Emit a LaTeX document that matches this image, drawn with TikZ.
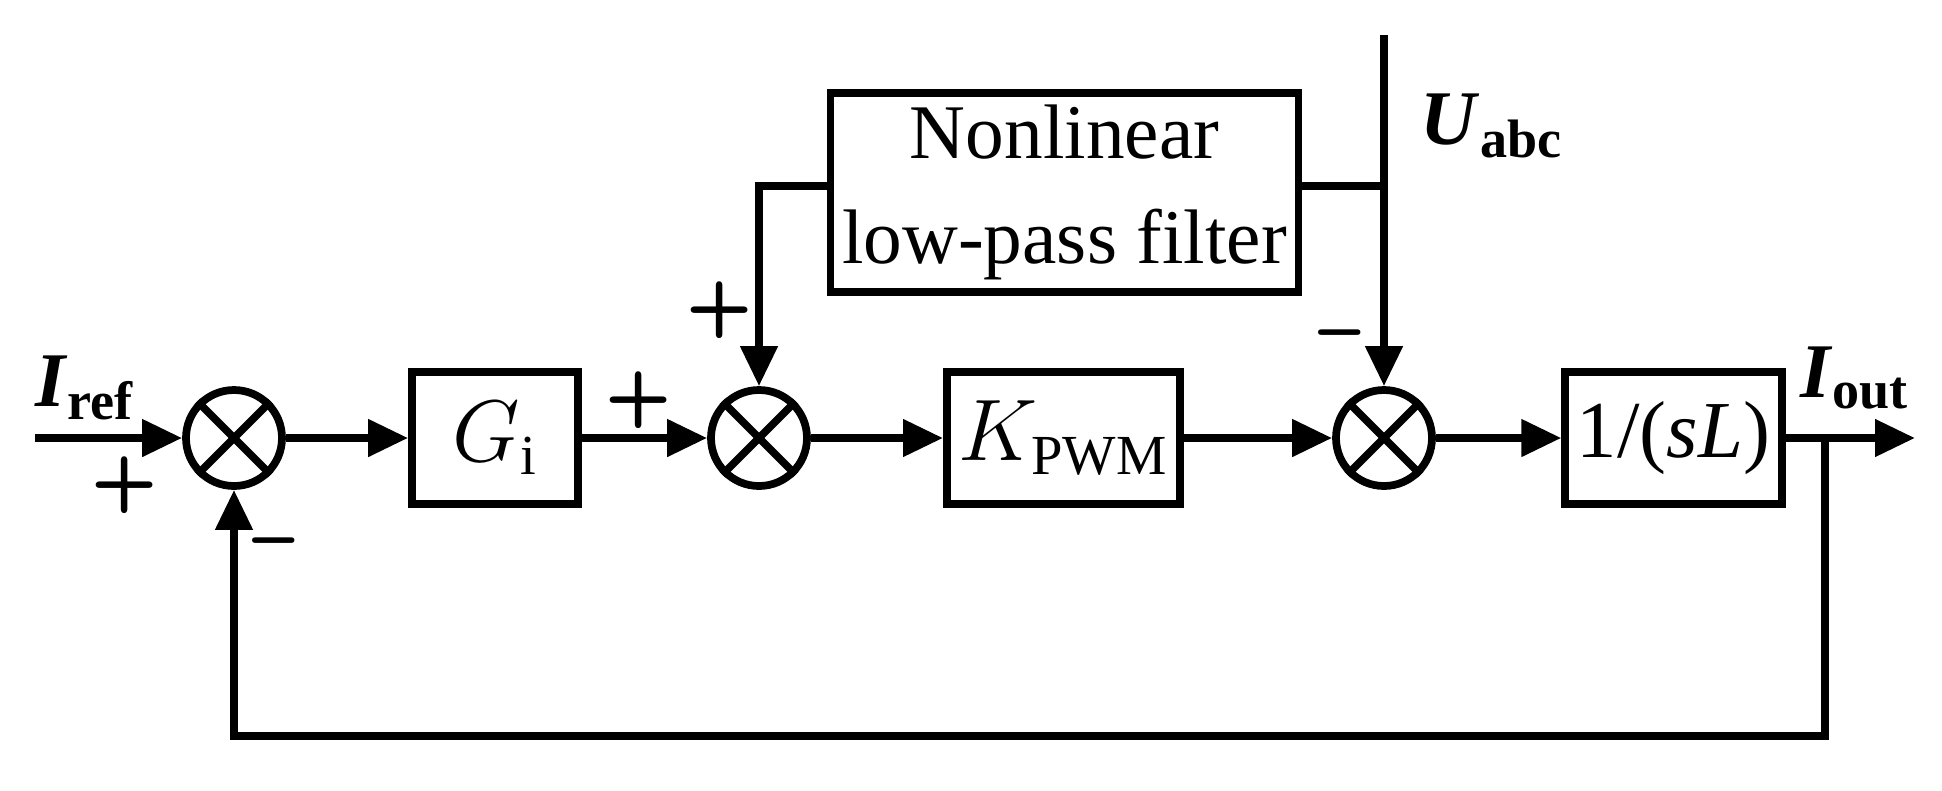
\documentclass[tikz,border=0pt]{standalone}
\usepackage{fontspec}
\setmainfont{Liberation Serif}
\usetikzlibrary{arrows.meta,positioning}

\tikzset{
  blk/.style={draw,line width=2.2pt,minimum height=1.32cm,font=\fontsize{23}{26}\selectfont},
  sumj/.style={draw,circle,line width=2.2pt,minimum size=0.96cm,inner sep=0pt},
  sig/.style={line width=2.2pt,-{Triangle[length=0.4cm,width=0.36cm]}},
  wire/.style={line width=2.2pt},
  sgn/.style={font=\fontsize{22}{22}\selectfont\bfseries\sffamily},
  lbl/.style={font=\fontsize{22}{24}\selectfont\bfseries}
}

\begin{document}
\begin{tikzpicture}
\useasboundingbox (0,0) rectangle (19.42,-7.90);
% summing junctions
\node[sumj] (s1) at (2.34,-4.38) {};
\node[sumj] (s2) at (7.59,-4.38) {};
\node[sumj] (s3) at (13.84,-4.38) {};
\foreach \s in {s1,s2,s3}{
  \draw[wire] (\s.45) -- (\s.225);
  \draw[wire] (\s.135) -- (\s.315);
}
% blocks
\node[blk,minimum width=1.66cm] (gi) at (4.95,-4.38) {$G_{\mathrm{i}}$};
\node[blk,minimum width=2.06cm] (kpwm) at (10.635,-4.38) {$K_{\mathrm{PWM}}$};
\node[blk,minimum width=2.06cm] (plant) at (16.735,-4.38) {1/(\textit{sL})};
\node[blk,minimum width=4.36cm,minimum height=1.86cm,align=center,
  font=\fontsize{22}{30}\selectfont] (nlf) at (10.645,-1.925) {Nonlinear\\low-pass filter};
% free ends
\coordinate (in) at (0.35,-4.38);
\coordinate (out) at (19.15,-4.38);
\coordinate (tap) at (18.25,-4.38);
\coordinate (ua) at (13.84,-0.35);
\coordinate (bot) at (18.25,-7.36);
% forward path
\draw[sig] (in) -- (s1.west);
\draw[sig] (s1.east) -- (gi.west);
\draw[sig] (gi.east) -- (s2.west);
\draw[sig] (s2.east) -- (kpwm.west);
\draw[sig] (kpwm.east) -- (s3.west);
\draw[sig] (s3.east) -- (plant.west);
\draw[sig] (plant.east) -- (out);
% filter branch
\draw[sig] (nlf.west |- 0,-1.86) -| (s2.north);
\draw[wire] (nlf.east |- 0,-1.86) -- (ua |- 0,-1.86);
\draw[sig] (ua) -- (s3.north);
% feedback
\draw[sig] (tap) -- (bot) -| (s1.south);
% labels
\node[lbl] (iref) at (0.85,-3.88) {\textit{I}\textsubscript{ref}};
\node[lbl] (iout) at (18.55,-3.78) {\textit{I}\textsubscript{out}};
\node[lbl] (uabc) at (14.92,-1.26) {\textit{U}\textsubscript{abc}};
\node[sgn] (p1) at (1.25,-4.85) {+};
\node[sgn] (m1) at (2.74,-5.5) {--};
\node[sgn] (p2) at (6.39,-4.0) {+};
\node[sgn] (p3) at (7.2,-3.1) {+};
\node[sgn] (m3) at (13.4,-3.42) {--};
\end{tikzpicture}
\end{document}
